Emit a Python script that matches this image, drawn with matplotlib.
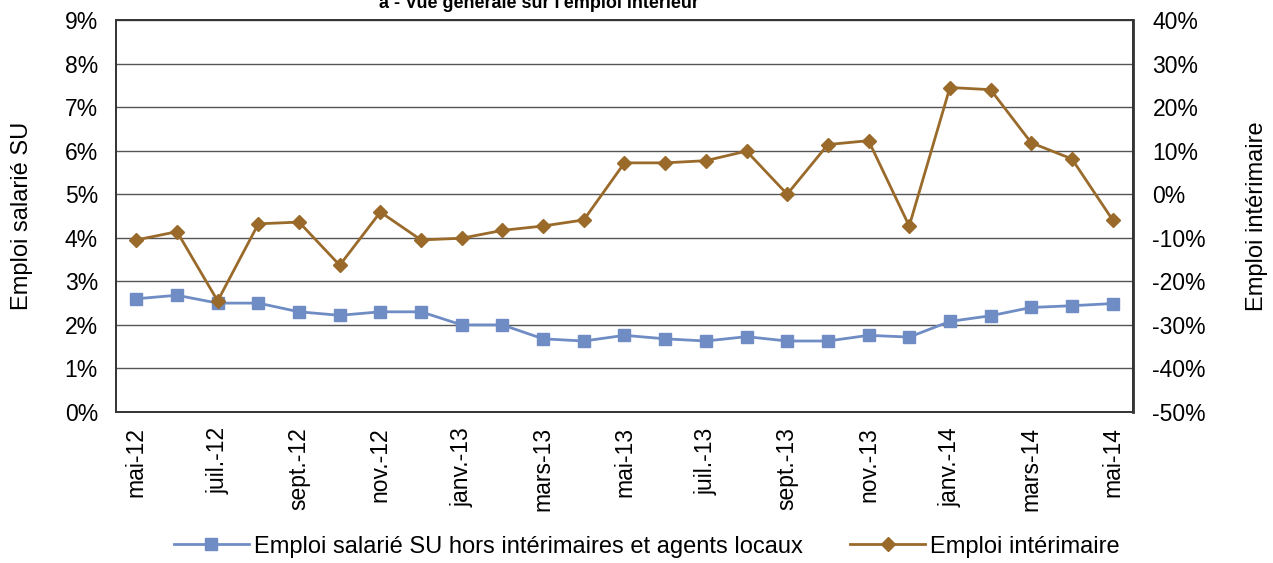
import matplotlib.pyplot as plt
from matplotlib.ticker import FuncFormatter

plt.rcParams['font.family'] = ['Liberation Sans', 'DejaVu Sans']

months = ["mai-12", "juin-12", "juil.-12", "août-12", "sept.-12", "oct.-12", "nov.-12", "déc.-12",
          "janv.-13", "févr.-13", "mars-13", "avr.-13", "mai-13", "juin-13", "juil.-13", "août-13",
          "sept.-13", "oct.-13", "nov.-13", "déc.-13", "janv.-14", "févr.-14", "mars-14", "avr.-14",
          "mai-14"]

# Emploi salarie SU hors interimaires et agents locaux (%), left axis
emploi_su = [2.60, 2.68, 2.50, 2.50, 2.30, 2.22, 2.30, 2.30, 2.00, 2.00, 1.68, 1.63, 1.76,
             1.68, 1.63, 1.73, 1.63, 1.63, 1.76, 1.72, 2.08, 2.21, 2.40, 2.44, 2.49]

# Emploi interimaire (%), right axis
emploi_interim = [-10.5, -8.6, -24.5, -6.8, -6.4, -16.3, -4.1, -10.5, -10.1, -8.3, -7.3, -5.9, 7.2,
                  7.2, 7.7, 9.9, 0.0, 11.4, 12.3, -7.3, 24.5, 24.0, 11.8, 8.1, -5.9]

blue = "#6F8DC4"
brown = "#9A6A2B"

fig = plt.figure(figsize=(12.73, 5.63), dpi=100)
ax = fig.add_axes([0.0911, 0.2682, 0.7989, 0.6963])
ax2 = ax.twinx()

x = list(range(len(months)))

l1, = ax.plot(x, emploi_su, color=blue, lw=2.0, marker="s", markersize=9,
              label="Emploi salarié SU hors intérimaires et agents locaux")
l2, = ax2.plot(x, emploi_interim, color=brown, lw=2.0, marker="D", markersize=7.5,
               label="Emploi intérimaire")

ax.set_xlim(-0.5, len(months) - 0.5)
ax.set_ylim(0, 9)
ax.set_yticks(range(0, 10))
ax.yaxis.set_major_formatter(FuncFormatter(lambda v, p: "{:d}%".format(int(round(v)))))
ax2.set_ylim(-50, 40)
ax2.set_yticks(range(-50, 50, 10))
ax2.yaxis.set_major_formatter(FuncFormatter(lambda v, p: "{:d}%".format(int(round(v)))))

ax.grid(axis="y", color="#555555", lw=1.0)
ax.set_axisbelow(True)

ax.set_xticks(x[::2])
ax.set_xticklabels(months[::2], rotation=90, fontsize=16.5)
ax.tick_params(axis="x", length=0, pad=11)
ax.tick_params(axis="y", length=0, labelsize=16.5, pad=13)
ax2.tick_params(axis="y", length=0, labelsize=16.5, pad=14)

for a in (ax, ax2):
    for s in a.spines.values():
        s.set_color("#333333")
        s.set_linewidth(1.2)
ax2.spines["right"].set_linewidth(2.0)

ax.set_ylabel("Emploi salarié SU", fontsize=17, va="center")
ax2.set_ylabel("Emploi intérimaire", fontsize=17, va="center")
ax.yaxis.set_label_coords((22 / 1273 - 0.0911) / 0.7989, 0.5)
ax2.yaxis.set_label_coords((1257 / 1273 - 0.0911) / 0.7989, 0.5)

fig.text(0.423, 0.986, "a - Vue générale sur l'emploi intérieur", fontsize=13,
         fontweight="bold", ha="center", va="baseline")

fig.legend(handles=[l1, l2], loc="center", bbox_to_anchor=(0.508, 0.029), ncol=2,
           frameon=False, fontsize=17, columnspacing=2.0, handlelength=3.2,
           handletextpad=0.2)

fig.savefig("out.png", dpi=100)
